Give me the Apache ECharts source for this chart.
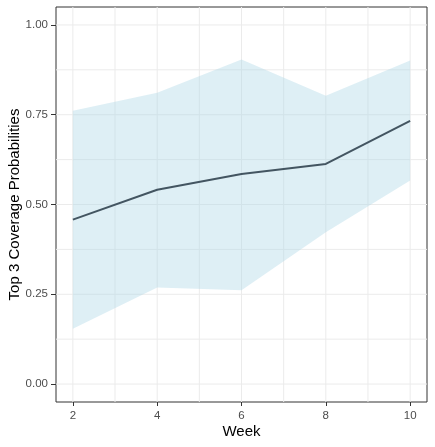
<!DOCTYPE html>
<html>
<head>
<meta charset="utf-8">
<script src="https://cdn.jsdelivr.net/npm/echarts@6/dist/echarts.min.js"></script>
<style>
html,body{margin:0;padding:0;background:#fff;}
#container{width:435px;height:447px;}
</style>
</head>
<body>
<div id="container"></div>
<script>
var weeks = [2, 4, 6, 8, 10];
var coverage = [0.458, 0.541, 0.585, 0.613, 0.733];
var upperBand = [0.761, 0.811, 0.904, 0.803, 0.901];
var lowerBand = [0.154, 0.269, 0.261, 0.423, 0.567];
var xTicks = [2, 4, 6, 8, 10];
var yTicks = [0, 0.25, 0.5, 0.75, 1];
var xGrid = [2, 3, 4, 5, 6, 7, 8, 9, 10];
var yGrid = [0, 0.125, 0.25, 0.375, 0.5, 0.625, 0.75, 0.875, 1];

var xMin = 1.6, xMax = 10.4, yMin = -0.05, yMax = 1.05;

var myChart = echarts.init(document.getElementById('container'));

var lineData = [];
for (var i = 0; i < weeks.length; i++) {
	lineData.push([weeks[i], coverage[i]]);
}
var bandData = [];
for (var i = 0; i < weeks.length; i++) {
	bandData.push([weeks[i], lowerBand[i], upperBand[i]]);
}

var labelFont = {color: '#4D4D4D', fontSize: 11.5, fontFamily: 'Liberation Sans, Arial, sans-serif'};
var titleFont = {color: '#000', fontSize: 15, fontFamily: 'Liberation Sans, Arial, sans-serif'};

var option = {
	animation: false,
	grid: {left: 56, top: 7, right: 8, bottom: 45, outerBoundsMode: 'none', containLabel: false,
		show: true, borderColor: '#333333', borderWidth: 1, backgroundColor: '#fff'},
	xAxis: {
		type: 'value',
		min: xMin,
		max: xMax,
		name: 'Week',
		nameLocation: 'middle',
		nameGap: 22,
		nameMoveOverlap: false,
		nameTextStyle: titleFont,
		axisLine: {show: false, onZero: false},
		splitLine: {show: false},
		axisTick: {show: true, length: 4, lineStyle: {color: '#333333'}, customValues: xTicks},
		axisLabel: Object.assign({margin: 8, customValues: xTicks}, labelFont)
	},
	yAxis: {
		type: 'value',
		min: yMin,
		max: yMax,
		name: 'Top 3 Coverage Probabilities',
		nameLocation: 'middle',
		nameGap: 34,
		nameMoveOverlap: false,
		nameTextStyle: titleFont,
		axisLine: {show: false, onZero: false},
		splitLine: {show: false},
		axisTick: {show: true, length: 5, lineStyle: {color: '#333333'}, customValues: yTicks},
		axisLabel: Object.assign({
			margin: 8,
			customValues: yTicks,
			formatter: function (v) { return v.toFixed(2); }
		}, labelFont)
	},
	series: [{
		// vertical grid lines
		type: 'custom',
		data: xGrid,
		silent: true,
		z: 1,
		renderItem: function (params, api) {
			var x = api.value(0);
			var p1 = api.coord([x, yMin]);
			var p2 = api.coord([x, yMax]);
			return {type: 'line', shape: {x1: p1[0], y1: p1[1], x2: p2[0], y2: p2[1]},
				style: {stroke: '#EBEBEB', lineWidth: 1}};
		}
	}, {
		// horizontal grid lines
		type: 'custom',
		data: yGrid.map(function (v) { return [xMin, v]; }),
		silent: true,
		z: 1,
		renderItem: function (params, api) {
			var y = api.value(1);
			var p1 = api.coord([xMin, y]);
			var p2 = api.coord([xMax, y]);
			return {type: 'line', shape: {x1: p1[0], y1: p1[1], x2: p2[0], y2: p2[1]},
				style: {stroke: '#EBEBEB', lineWidth: 1}};
		}
	}, {
		type: 'custom',
		data: bandData,
		silent: true,
		z: 2,
		renderItem: function (params, api) {
			if (params.dataIndex !== 0) return;
			var pts = [];
			for (var i = 0; i < bandData.length; i++) pts.push(api.coord([bandData[i][0], bandData[i][2]]));
			for (var i = bandData.length - 1; i >= 0; i--) pts.push(api.coord([bandData[i][0], bandData[i][1]]));
			return {
				type: 'polygon',
				shape: {points: pts},
				style: {fill: 'rgba(173,216,230,0.4)'}
			};
		}
	}, {
		type: 'line',
		data: lineData,
		symbol: 'none',
		silent: true,
		z: 3,
		lineStyle: {color: '#435561', width: 2}
	}]
};
myChart.setOption(option);
</script>
</body>
</html>
